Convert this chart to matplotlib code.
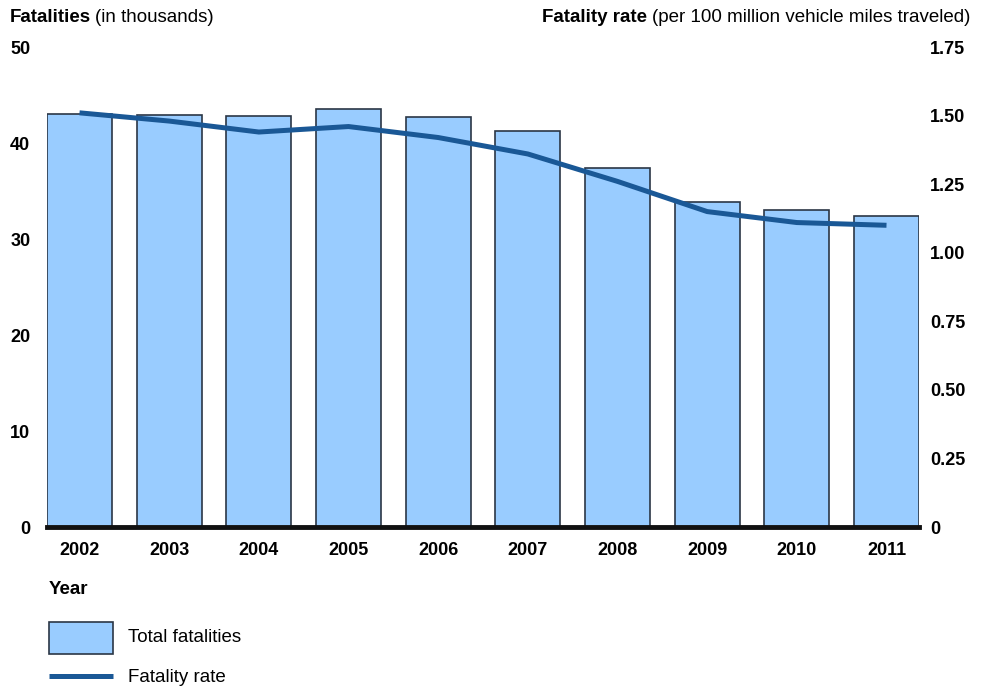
import matplotlib.pyplot as plt
from matplotlib.patches import Rectangle
from matplotlib.lines import Line2D

plt.rcParams['font.family'] = ['Liberation Sans', 'DejaVu Sans']

# data
years = ['2002', '2003', '2004', '2005', '2006', '2007', '2008', '2009', '2010', '2011']
fatalities = [43.0, 42.9, 42.8, 43.5, 42.7, 41.3, 37.4, 33.9, 33.0, 32.4]
rate = [1.51, 1.48, 1.44, 1.46, 1.42, 1.36, 1.26, 1.15, 1.11, 1.10]
left_ticks = [0, 10, 20, 30, 40, 50]
right_ticks = [0, 0.25, 0.50, 0.75, 1.00, 1.25, 1.50, 1.75]
right_labels = ['0', '0.25', '0.50', '0.75', '1.00', '1.25', '1.50', '1.75']

bar_color = '#99ccff'
edge_color = '#2b3645'
line_color = '#1a5896'
fs = 13
W, H = 988, 689

fig = plt.figure(figsize=(9.88, 6.89), dpi=100)
ax = fig.add_axes([47 / W, 162 / H, 872 / W, 480 / H])
x = list(range(len(years)))
ax.bar(x, fatalities, width=0.725, color=bar_color, edgecolor=edge_color, linewidth=1.2, zorder=2)
ax.set_xlim(-0.3625, 9.3625)
ax.set_ylim(0, 50)
ax.set_yticks(left_ticks)
ax.set_yticklabels([str(t) for t in left_ticks], fontsize=fs, fontweight='bold')
ax.set_xticks(x)
ax.set_xticklabels(years, fontsize=fs, fontweight='bold')
ax.tick_params(axis='both', length=0)
ax.tick_params(axis='y', pad=12)
ax.tick_params(axis='x', pad=11)
for s in ['top', 'right', 'left']:
    ax.spines[s].set_visible(False)
ax.spines['bottom'].set_linewidth(3.5)
ax.spines['bottom'].set_color('#111111')
ax.spines['bottom'].set_zorder(5)

ax2 = ax.twinx()
ax2.plot(x, rate, color=line_color, linewidth=3.6, zorder=3, solid_capstyle='butt')
ax2.set_ylim(0, 1.75)
ax2.set_yticks(right_ticks)
ax2.set_yticklabels(right_labels, fontsize=fs, fontweight='bold')
ax2.tick_params(axis='y', length=0, pad=8)
for s in ['top', 'right', 'left', 'bottom']:
    ax2.spines[s].set_visible(False)

# axis titles: bold part followed by plain part
tfs = 13.5
t1 = fig.text(10 / W, 1 - 17 / H, 'Fatalities', fontsize=tfs, fontweight='bold', va='center', ha='left')
ax.annotate('(in thousands)', xy=(1, 0.5), xycoords=t1, xytext=(3, 0), textcoords='offset points',
            fontsize=tfs, va='center', ha='left', annotation_clip=False)
t2 = fig.text(970 / W, 1 - 17 / H, '(per 100 million vehicle miles traveled)', fontsize=tfs,
              va='center', ha='right')
ax.annotate('Fatality rate', xy=(0, 0.5), xycoords=t2, xytext=(-3, 0), textcoords='offset points',
            fontsize=tfs, fontweight='bold', va='center', ha='right', annotation_clip=False)
fig.text(49 / W, 1 - 589 / H, 'Year', fontsize=tfs, fontweight='bold', va='center', ha='left')

# legend drawn by hand
fig.patches.append(Rectangle((49 / W, 1 - 654 / H), 64 / W, 32 / H, transform=fig.transFigure,
                             facecolor=bar_color, edgecolor=edge_color, linewidth=1.2))
fig.lines.append(Line2D([49 / W, 113 / W], [1 - 676 / H, 1 - 676 / H], transform=fig.transFigure,
                        color=line_color, linewidth=3.6, solid_capstyle='butt'))
fig.text(128 / W, 1 - 637 / H, 'Total fatalities', fontsize=tfs, va='center', ha='left')
fig.text(128 / W, 1 - 677 / H, 'Fatality rate', fontsize=tfs, va='center', ha='left')

fig.savefig('out.png', dpi=100)
